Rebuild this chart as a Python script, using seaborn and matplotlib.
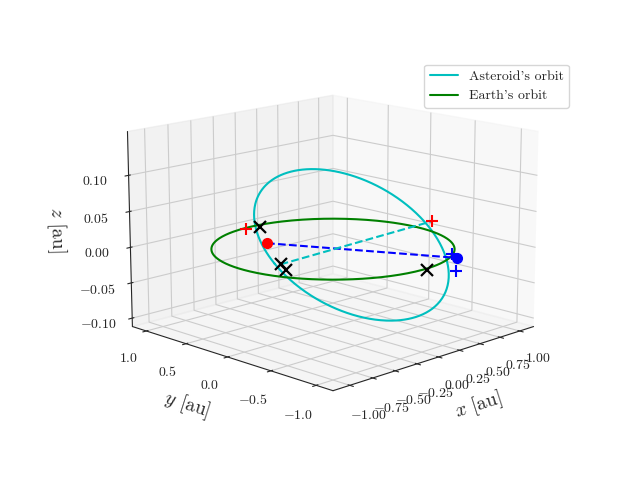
import numpy as np
import matplotlib
matplotlib.use("Agg")
import matplotlib.pyplot as plt
import seaborn as sns

sns.set_style("white")
plt.rcParams.update({"font.family": "serif", "font.serif": ["cmr10"], "mathtext.fontset": "cm",
                     "axes.formatter.use_mathtext": True, "axes.unicode_minus": True})

# asteroid orbital elements
a_ast, e_ast, inc_deg, node_deg, peri_deg = 0.82, 0.25, 5.6, -10.0, 185.0
theta = np.linspace(0, 2 * np.pi, 400)

# marked positions (x, y, z) [au]
earth_pos = [-0.29, 0.485, 0.0]
ast_pos = [0.47, -0.95, 0.0]
cross_x = [0.06, -0.677, -0.76, 0.02]
cross_y = [0.945, -0.087, -0.24, -1.027]
cross_z = [0.0, 0.0, 0.0, 0.0]
red_plus_x = [-0.093, 0.949]
red_plus_y = [0.956, -0.242]
red_plus_z = [0.0, 0.0165]
blue_plus_x = [0.495, 0.467]
blue_plus_y = [-0.92, -0.89]
blue_plus_z = [-0.0193, 0.0042]

def orbit(a, e, inc, node, peri, nu):
    r = a * (1 - e**2) / (1 + e * np.cos(nu))
    i, O, w = np.radians([inc, node, peri])
    u = nu + w
    x = r * (np.cos(O) * np.cos(u) - np.sin(O) * np.sin(u) * np.cos(i))
    y = r * (np.sin(O) * np.cos(u) + np.cos(O) * np.sin(u) * np.cos(i))
    z = r * np.sin(u) * np.sin(i)
    return x, y, z

ax_, ay_, az_ = orbit(a_ast, e_ast, inc_deg, node_deg, peri_deg, theta)
ex, ey, ez = np.cos(theta), np.sin(theta), np.zeros_like(theta)

fig = plt.figure(figsize=(6.4, 4.8), dpi=100)
fig.subplots_adjust(bottom=0.125, top=0.895)
ax = fig.add_subplot(projection="3d")
ax.set_box_aspect((4, 4, 2.8), zoom=1.19)
ax.plot(ax_, ay_, az_, color="c", label="Asteroid's orbit")
ax.plot(ex, ey, ez, color="g", label="Earth's orbit")
ax.plot([earth_pos[0], ast_pos[0]], [earth_pos[1], ast_pos[1]], [earth_pos[2], ast_pos[2]], "b--", lw=1.5)
ax.plot([cross_x[1], red_plus_x[1]], [cross_y[1], red_plus_y[1]], [cross_z[1], red_plus_z[1]], "c--", lw=1.5)
ax.plot(*[[v] for v in earth_pos], "o", color="r", ms=7)
ax.plot(*[[v] for v in ast_pos], "o", color="b", ms=7)
ax.plot(cross_x, cross_y, cross_z, "x", color="k", ms=8, mew=1.6, ls="none")
ax.plot(red_plus_x, red_plus_y, red_plus_z, "+", color="r", ms=8, mew=1.5, ls="none")
ax.plot(blue_plus_x, blue_plus_y, blue_plus_z, "+", color="b", ms=8, mew=1.5, ls="none")
ax.set_xlim(-1.18, 1.18); ax.set_ylim(-1.18, 1.18); ax.set_zlim(-0.112, 0.16)
ax.set_xticks([-1, -0.75, -0.5, -0.25, 0, 0.25, 0.5, 0.75, 1])
ax.set_yticks([-1, -0.5, 0, 0.5, 1])
ax.set_zticks([-0.1, -0.05, 0, 0.05, 0.1])
ax.set_xlabel("$x$ [au]", fontsize=14)
ax.set_ylabel("$y$ [au]", fontsize=14)
ax.set_zlabel("$z$ [au]", fontsize=14)
ax.view_init(elev=14, azim=-135)
ax.legend(loc="upper right", fontsize=10, bbox_to_anchor=(0.9, 0.88), bbox_transform=fig.transFigure)
fig.savefig("out.png")
